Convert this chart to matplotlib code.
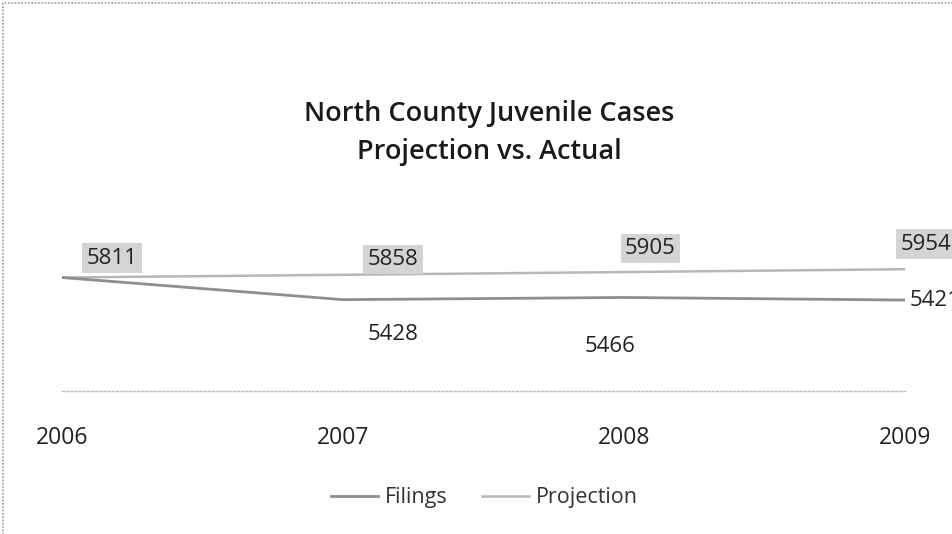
import matplotlib
matplotlib.use("Agg")
import matplotlib.pyplot as plt
from matplotlib.patches import Rectangle

# Data
years = ["2006", "2007", "2008", "2009"]
filings = [5811, 5428, 5466, 5421]
projection = [5811, 5858, 5905, 5954]

# label placement (offset points), not data
proj_offsets = [(36, 14), (36, 11), (19, 17), (15, 18)]
fil_offsets = [None, (36, -25), (-10, -35), (3, 0)]

plt.rcParams["font.family"] = ["Open Sans", "DejaVu Sans"]

fig = plt.figure(figsize=(9.52, 5.34), dpi=100)
ax = fig.add_axes([62 / 952, 143 / 534, 843 / 952, 191 / 534])

x = list(range(len(years)))
ax.plot(x, filings, color="#8f8f8f", lw=2.0, label="Filings", zorder=3)
ax.plot(x, projection, color="#b8b8b8", lw=1.8, label="Projection", zorder=2)

ax.set_xlim(0, len(years) - 1)
ax.set_ylim(3850, 7150)

# data labels
for i, v in enumerate(projection):
    ax.annotate(str(v), (x[i], v), xytext=proj_offsets[i], textcoords="offset points",
                ha="center", va="center", fontsize=16, color="#222222",
                annotation_clip=False,
                bbox=dict(boxstyle="square,pad=0.2", facecolor="#d4d4d4",
                          edgecolor="none"))
for i, v in enumerate(filings):
    if fil_offsets[i] is None:
        continue
    last = i == len(filings) - 1
    ax.annotate(str(v), (x[i], v), xytext=fil_offsets[i], textcoords="offset points",
                ha="left" if last else "center", va="center", fontsize=16,
                color="#222222", annotation_clip=False)

ax.set_xticks(x)
ax.set_xticklabels(years, fontsize=16.5, color="#222222")
ax.set_yticks([])
ax.tick_params(axis="x", length=0, pad=25)
for side in ["top", "right", "left"]:
    ax.spines[side].set_visible(False)
ax.spines["bottom"].set_color("#bdbdbd")
ax.spines["bottom"].set_linestyle((0, (1.5, 1.5)))
ax.spines["bottom"].set_linewidth(1.0)
ax.patch.set_alpha(0)

fig.text(489 / 952, 1 - 133 / 534, "North County Juvenile Cases\nProjection vs. Actual",
         ha="center", va="center", fontsize=19.5, fontweight="semibold",
         color="#1a1a1a", linespacing=1.45)

fig.legend(loc="center", bbox_to_anchor=(484 / 952, 1 - 498 / 534), ncol=2,
           frameon=False, fontsize=15.5, handlelength=2.2, columnspacing=1.6,
           handletextpad=0.3, labelcolor="#333333")

# outer chart border (runs off the right and bottom edges)
fig.patches.append(Rectangle((3 / 952, -0.05), 1.1, 1 - 3 / 534 + 0.05,
                             transform=fig.transFigure, fill=False,
                             edgecolor="#9a9a9a", lw=1.2, linestyle=(0, (1, 1))))

fig.savefig("out.png", dpi=100)
